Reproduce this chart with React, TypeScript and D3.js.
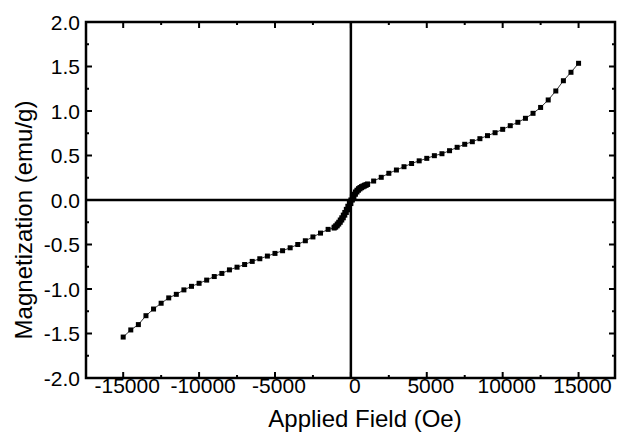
import React from "react";
import * as d3 from "d3";

const negField = [-15000,-14500,-14000,-13500,-13000,-12500,-12000,-11500,-11000,-10500,-10000,-9500,-9000,-8500,-8000,-7500,-7000,-6500,-6000,-5500,-5000,-4500,-4000,-3500,-3000,-2500,-2000,-1500];
const negM = [-1.54,-1.46,-1.40,-1.30,-1.225,-1.16,-1.10,-1.06,-1.01,-0.97,-0.936,-0.90,-0.86,-0.825,-0.785,-0.755,-0.725,-0.69,-0.66,-0.63,-0.60,-0.57,-0.537,-0.50,-0.458,-0.415,-0.372,-0.33];

const blobField = [-1100,-1000,-900,-800,-700,-600,-500,-400,-300,-200,-100,0,100,200,300,400,500,600,700,800,900,1000,1100];
const blobUp = [-0.315,-0.305,-0.29,-0.27,-0.25,-0.225,-0.20,-0.17,-0.14,-0.11,-0.075,-0.04,0.0,0.035,0.065,0.09,0.11,0.125,0.138,0.148,0.157,0.165,0.175];
const blobDown = [-0.305,-0.29,-0.27,-0.25,-0.225,-0.20,-0.17,-0.14,-0.105,-0.07,-0.035,0.0,0.035,0.065,0.09,0.11,0.127,0.14,0.15,0.158,0.166,0.172,0.18];

const posField = [1500,2000,2500,3000,3500,4000,4500,5000,5500,6000,6500,7000,7500,8000,8500,9000,9500,10000,10500,11000,11500,12000,12500,13000,13500,14000,14500,15000];
const posM = [0.213,0.255,0.30,0.337,0.374,0.41,0.44,0.468,0.498,0.52,0.554,0.592,0.626,0.655,0.689,0.723,0.756,0.794,0.835,0.873,0.918,0.974,1.04,1.124,1.225,1.34,1.435,1.536];

const xMajor = [-15000,-10000,-5000,0,5000,10000,15000];
const xMinor = [-12500,-7500,-2500,2500,7500,12500];
const yMajor = [-2.0,-1.5,-1.0,-0.5,0.0,0.5,1.0,1.5,2.0];
const yMinor = [-1.75,-1.25,-0.75,-0.25,0.25,0.75,1.25,1.75];

const xTitle = "Applied Field (Oe)";
const yTitle = "Magnetization (emu/g)";

export default function App() {
  const W = 624, H = 436;
  const L = 86, R = 615, T = 22, B = 378;
  const x = d3.scaleLinear().domain([-17450, 17400]).range([L, R]);
  const y = d3.scaleLinear().domain([-2, 2]).range([B, T]);

  const main: [number, number][] = [
    ...negField.map((f, i) => [f, negM[i]] as [number, number]),
    ...blobField.map((f, i) => [f, blobUp[i]] as [number, number]),
    ...posField.map((f, i) => [f, posM[i]] as [number, number]),
  ];
  const down: [number, number][] = blobField.map((f, i) => [f, blobDown[i]] as [number, number]);

  const line = d3.line<[number, number]>().x(d => x(d[0])).y(d => y(d[1]));
  const font = "'Liberation Sans', Arial, sans-serif";
  const ms = 5;
  const sw = 2.5;

  return (
    <div style={{ position: "absolute", left: 0, top: 0 }}>
      <svg width={W} height={H} style={{ display: "block", background: "#fff" }}>
        <rect x={0} y={0} width={W} height={H} fill="#fff" />
        <line x1={x(0)} x2={x(0)} y1={T} y2={B} stroke="#000" strokeWidth={sw} />
        <line x1={L} x2={R} y1={y(0)} y2={y(0)} stroke="#000" strokeWidth={sw} />
        <path d={line(main) || ""} fill="none" stroke="#333" strokeWidth={1} />
        <path d={line(down) || ""} fill="none" stroke="#333" strokeWidth={1} />
        {main.map((d, i) => (
          <rect key={"m" + i} x={x(d[0]) - ms / 2} y={y(d[1]) - ms / 2} width={ms} height={ms} fill="#000" />
        ))}
        {down.map((d, i) => (
          <rect key={"d" + i} x={x(d[0]) - ms / 2} y={y(d[1]) - ms / 2} width={ms} height={ms} fill="#000" />
        ))}
        {xMajor.map(v => (
          <g key={"xM" + v}>
            <line x1={x(v)} x2={x(v)} y1={B} y2={B - 6} stroke="#000" strokeWidth={2} />
            <line x1={x(v)} x2={x(v)} y1={T} y2={T + 6} stroke="#000" strokeWidth={2} />
            <text x={x(v) + 4} y={393} textAnchor="middle" fontFamily={font} fontSize={21} fill="#000">{String(v)}</text>
          </g>
        ))}
        {xMinor.map(v => (
          <g key={"xm" + v}>
            <line x1={x(v)} x2={x(v)} y1={B} y2={B - 3} stroke="#000" strokeWidth={2} />
            <line x1={x(v)} x2={x(v)} y1={T} y2={T + 3} stroke="#000" strokeWidth={2} />
          </g>
        ))}
        {yMajor.map(v => (
          <g key={"yM" + v}>
            <line x1={L} x2={L + 6} y1={y(v)} y2={y(v)} stroke="#000" strokeWidth={2} />
            <line x1={R} x2={R - 6} y1={y(v)} y2={y(v)} stroke="#000" strokeWidth={2} />
            <text x={80} y={y(v)} dy="0.36em" textAnchor="end" fontFamily={font} fontSize={21} fill="#000">{v.toFixed(1)}</text>
          </g>
        ))}
        {yMinor.map(v => (
          <g key={"ym" + v}>
            <line x1={L} x2={L + 3} y1={y(v)} y2={y(v)} stroke="#000" strokeWidth={2} />
            <line x1={R} x2={R - 3} y1={y(v)} y2={y(v)} stroke="#000" strokeWidth={2} />
          </g>
        ))}
        <rect x={L} y={T} width={R - L} height={B - T} fill="none" stroke="#000" strokeWidth={sw} />
        <text x={365} y={427} textAnchor="middle" fontFamily={font} fontSize={24} fill="#000">{xTitle}</text>
        <text transform={`translate(32,220) rotate(-90)`} textAnchor="middle" fontFamily={font} fontSize={24} fill="#000">{yTitle}</text>
      </svg>
    </div>
  );
}
